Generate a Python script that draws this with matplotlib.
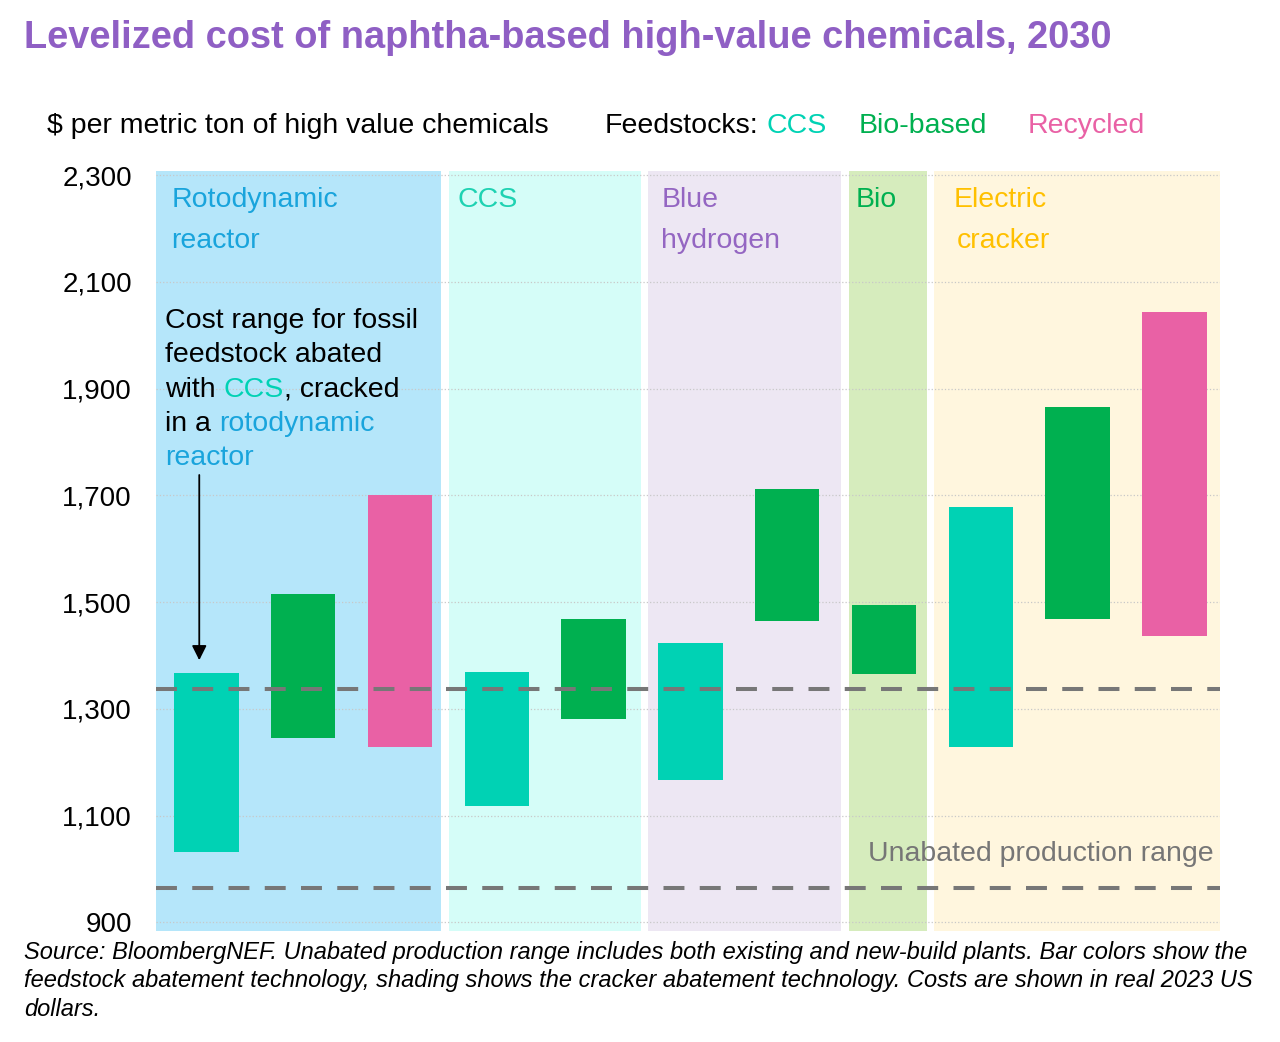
import matplotlib
matplotlib.use("Agg")
import matplotlib.pyplot as plt

plt.rcParams["font.family"] = ["Liberation Sans", "DejaVu Sans"]

# --------------------------------------------------------------------
# Data ($ per metric ton of HVC)
# --------------------------------------------------------------------
feedstocks = ["CCS", "Bio-based", "Recycled",
              "CCS", "Bio-based",
              "CCS", "Bio-based",
              "Bio-based",
              "CCS", "Bio-based", "Recycled"]
cost_low = [1032, 1245, 1229, 1118, 1280, 1167, 1465, 1365, 1229, 1469, 1436]
cost_high = [1367, 1515, 1700, 1369, 1468, 1423, 1712, 1494, 1678, 1865, 2043]

crackers = [["Rotodynamic", "reactor"], ["CCS"], ["Blue", "hydrogen"], ["Bio"], ["Electric", "cracker"]]
unabated_range = [964, 1338]
yticks = [900, 1100, 1300, 1500, 1700, 1900, 2100, 2300]

# --------------------------------------------------------------------
# Styling / layout
# --------------------------------------------------------------------
W, H = 1280, 1042
FEED_COLORS = {"CCS": "#00d2b4", "Bio-based": "#00b050", "Recycled": "#e961a5"}
SHADE_COLORS = ["#b5e6fa", "#d5fdf8", "#ede7f3", "#d6ecbd", "#fff6de"]
LABEL_COLORS = ["#19a4dc", "#1ed2b2", "#9466c2", "#00b050", "#ffc000"]
SHADE_EDGES = [(-0.525, 2.425), (2.505, 4.49), (4.565, 6.56), (6.64, 7.447), (7.52, 10.47)]
LABEL_X = [-0.363, 2.592, 4.70, 6.703, 7.717]
TITLE_COLOR = "#8f5fc4"
DASH_COLOR = "#777777"
FS = 20.5
AX_L, AX_R, AX_T, AX_B = 155.5, 1220, 171, 931
XLIM = (-0.525, 10.47)


def fx(px):
    return px / W


def fy(py):
    return 1 - py / H


fig = plt.figure(figsize=(W / 100, H / 100), dpi=100)
ax = fig.add_axes([fx(AX_L), fy(AX_B), fx(AX_R) - fx(AX_L), fy(AX_T) - fy(AX_B)])
ax.set_xlim(*XLIM)
ax.set_ylim(883.7, 2307.5)

# cracker shading
for (x0, x1), c in zip(SHADE_EDGES, SHADE_COLORS):
    ax.axvspan(x0, x1, color=c, lw=0, zorder=0)

# bars
xs = list(range(len(cost_low)))
heights = [hi - lo for lo, hi in zip(cost_low, cost_high)]
ax.bar(xs, heights, bottom=cost_low, width=0.665,
       color=[FEED_COLORS[f] for f in feedstocks], zorder=2, lw=0)

# unabated production range
for v in unabated_range:
    ax.axhline(v, color=DASH_COLOR, lw=2.9, linestyle=(0, (5.2, 3.8)), zorder=3)

ax.set_yticks(yticks)
ax.set_yticklabels([f"{v:,}" for v in yticks], fontsize=20)
ax.tick_params(axis="y", length=0, pad=17)
ax.set_xticks([])
ax.yaxis.grid(True, linestyle=":", color="#c8c8c8", lw=0.9, zorder=1)
ax.set_axisbelow(True)
for s in ax.spines.values():
    s.set_visible(False)

# cracker labels (two lines each, placed in pixels)
for lines, lx, c in zip(crackers, LABEL_X, LABEL_COLORS):
    xpix = AX_L + (lx - XLIM[0]) * (AX_R - AX_L) / (XLIM[1] - XLIM[0])
    for j, line in enumerate(lines):
        extra = 3 if line == "cracker" else 0
        fig.text(fx(xpix + extra), fy(207 + 41 * j), line, color=c, fontsize=FS,
                 va="baseline", ha="left", zorder=4)

fig.text(fx(1214), fy(861), "Unabated production range", color="#767676",
         fontsize=FS, ha="right", va="baseline")

# annotation with coloured words
renderer = fig.canvas.get_renderer()


def rich_line(x_px, y_px, pieces):
    x = fx(x_px)
    for s, c in pieces:
        t = fig.text(x, fy(y_px), s, color=c, fontsize=FS, va="baseline", ha="left")
        bb = t.get_window_extent(renderer=renderer)
        x = fig.transFigure.inverted().transform((bb.x1, bb.y0))[0]


ann = [
    [("Cost range for fossil", "black")],
    [("feedstock abated", "black")],
    [("with ", "black"), ("CCS", FEED_COLORS["CCS"]), (", cracked", "black")],
    [("in a ", "black"), ("rotodynamic", LABEL_COLORS[0])],
    [("reactor", LABEL_COLORS[0])],
]
for i, pieces in enumerate(ann):
    rich_line(165, 328 + 34.3 * i, pieces)

ax.annotate("", xy=(-0.073, 1391), xytext=(-0.073, 1738),
            arrowprops=dict(arrowstyle="-|>", color="black", lw=1.3,
                            mutation_scale=22, shrinkA=0, shrinkB=0), zorder=5)

# title, unit label, legend text
fig.text(fx(24), fy(48), "Levelized cost of naphtha-based high-value chemicals, 2030",
         color=TITLE_COLOR, fontsize=27.4, fontweight="bold", va="baseline")
fig.text(fx(47), fy(133), "$ per metric ton of high value chemicals", fontsize=FS,
         va="baseline")
fig.text(fx(605), fy(133), "Feedstocks:", fontsize=FS, va="baseline")
fig.text(fx(767), fy(133), "CCS", color=FEED_COLORS["CCS"], fontsize=FS, va="baseline")
fig.text(fx(859), fy(133), "Bio-based", color=FEED_COLORS["Bio-based"], fontsize=FS,
         va="baseline")
fig.text(fx(1028), fy(133), "Recycled", color=FEED_COLORS["Recycled"], fontsize=FS,
         va="baseline")

# source note
notes = [
    "Source: BloombergNEF. Unabated production range includes both existing and new-build plants. Bar colors show the",
    "feedstock abatement technology, shading shows the cracker abatement technology. Costs are shown in real 2023 US",
    "dollars.",
]
for i, line in enumerate(notes):
    fig.text(fx(24), fy(959 + 28.5 * i), line, fontsize=17, style="italic",
             va="baseline")

fig.savefig("out.png", dpi=100)
